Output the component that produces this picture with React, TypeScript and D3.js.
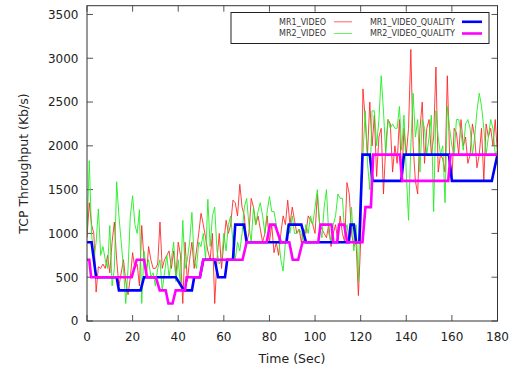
import React from "react";
import * as d3 from "d3";

const mr1Video = [
  950,1350,1100,1000,330,620,600,650,600,750,
  550,900,1130,700,400,550,700,450,300,500,
  780,600,650,400,1090,700,500,850,700,600,
  600,650,1130,600,700,750,800,600,800,500,
  900,750,200,900,450,700,900,600,800,1000,
  1230,1100,950,800,700,1000,200,700,1000,600,
  900,1150,1000,1100,1380,1350,1200,1560,1300,1200,
  900,1000,1400,1300,1100,1200,1050,900,1000,1200,
  900,1100,780,900,750,1000,1200,1100,1380,1100,
  1300,1150,1000,1050,900,1050,1000,1200,1150,1100,
  1000,1450,1100,1050,1000,950,1100,850,1000,1100,
  900,1200,1000,900,1580,1450,1000,850,900,290,
  900,2650,2300,1900,2500,2000,2350,1650,2100,2200,
  1450,2000,2300,2250,1700,2000,1800,2300,1600,2200,
  1900,2200,3100,2000,1600,1450,2200,2500,1800,2200,
  2300,1900,2100,2900,1700,1900,1850,1700,2800,1900,
  1600,2200,2150,1900,2300,2000,2100,1800,1900,2250,
  2100,1750,1900,2200,1600,2250,2100,2200,2000,2300,
  1900,
];

const mr2Video = [
  1000,1830,1000,700,900,1280,750,850,700,600,
  1090,400,600,1590,1200,900,600,200,600,1200,
  1430,1100,1000,1270,200,800,600,700,500,550,
  400,600,700,350,550,750,500,700,900,450,
  700,400,1150,600,700,900,1240,700,600,900,
  850,1000,700,1390,850,1200,1300,800,650,700,
  1000,800,1100,1200,900,700,900,800,1000,1300,
  1400,1100,900,1300,1100,1250,1350,1200,1000,1250,
  1420,1250,1250,1100,950,700,570,900,1100,1000,
  1200,1000,1000,1050,1000,900,1100,1000,1200,1100,
  1300,1500,1100,950,1300,1500,1000,900,1100,1200,
  1450,1400,1400,1000,1100,900,1300,800,1100,450,
  1600,1900,2400,1800,1500,2400,2400,2000,2300,2800,
  2400,1900,2300,2200,2250,2200,2200,2450,1950,2350,
  1700,1150,2000,2600,2100,2300,1700,2300,2200,1900,
  2100,2350,1250,2400,2100,1900,2000,1350,2450,2200,
  2000,1900,2300,2300,2150,1950,2250,2300,2200,1900,
  2100,2400,2600,2450,2200,1900,2100,2300,2200,1900,
  1950,
];

const mr1QualityTime = [0,2,4,13,14,23.5,25,39,42.5,46,47,49.5,51,56,57.5,60.5,61.5,64,65,68.8,70,87.5,88.5,94,96,114.8,115.6,117,118,119.4,120.8,124,125.2,137.8,139,158.7,160,177.5,180];
const mr1QualityValue = [900,900,500,500,350,350,500,500,350,350,500,500,700,700,500,500,700,700,1100,1100,900,900,1100,1100,900,900,1100,1100,900,900,1900,1900,1600,1600,1900,1900,1600,1600,1900];

const mr2QualityTime = [0,1,1.8,19.6,21.8,25,26.3,30.2,31.9,34.5,35.7,37.5,38.9,43,43.7,49.5,51,68.2,70,78.8,80.2,82.4,85,88.7,90.2,92.6,94.5,101.4,102.4,107.2,108,109.7,110.5,112.8,114.1,120.8,122.1,124.5,125.5,137.2,138.2,158.4,159.4,180];
const mr2QualityValue = [700,700,500,500,700,700,500,500,350,350,200,200,350,350,500,500,700,700,900,900,1100,1100,900,900,700,700,900,900,1100,1100,900,900,1100,1100,900,900,1300,1300,1900,1900,1600,1600,1900,1900];

const xTicks = [0,20,40,60,80,100,120,140,160,180];
const yTicks = [0,500,1000,1500,2000,2500,3000,3500];

const seriesNames = ["MR1_VIDEO","MR2_VIDEO","MR1_VIDEO_QUALITY","MR2_VIDEO_QUALITY"];
const seriesColors = ["#ff2020","#22ee22","#0000ff","#ff00ff"];

export default function App() {
  const W = 513, H = 367;
  const left = 87, right = 497.5, top = 5.7, bottom = 321;
  const x = d3.scaleLinear().domain([0, 180]).range([left, right]);
  const y = d3.scaleLinear().domain([0, 3600]).range([bottom, top]);
  const font = "DejaVu Sans, sans-serif";
  const tickLen = 6;

  const line = d3.line<[number, number]>().x(d => x(d[0])).y(d => y(d[1]));
  const red = line(mr1Video.map((v, i) => [i, v] as [number, number])) || "";
  const green = line(mr2Video.map((v, i) => [i, v] as [number, number])) || "";
  const blue = line(mr1QualityTime.map((t, i) => [t, mr1QualityValue[i]] as [number, number])) || "";
  const mag = line(mr2QualityTime.map((t, i) => [t, mr2QualityValue[i]] as [number, number])) || "";

  const axisColor = "#555";
  const textColor = "#222";

  return (
    <svg width={W} height={H} style={{ position: "absolute", left: 0, top: 0 }} fontFamily={font}>
      <rect x={0} y={0} width={W} height={H} fill="#fff" />
      <defs>
        <clipPath id="plot">
          <rect x={left} y={top} width={right - left} height={bottom - top} />
        </clipPath>
      </defs>
      {/* ticks */}
      {yTicks.map(t => (
        <g key={"y" + t}>
          <line x1={left} x2={left + tickLen} y1={y(t)} y2={y(t)} stroke={axisColor} strokeWidth={1} />
          <line x1={right} x2={right - tickLen} y1={y(t)} y2={y(t)} stroke={axisColor} strokeWidth={1} />
          <text x={78.5} y={y(t)} dy="0.36em" textAnchor="end" fontSize={12} fill={textColor}>{t}</text>
        </g>
      ))}
      {xTicks.map(t => (
        <g key={"x" + t}>
          <line x1={x(t)} x2={x(t)} y1={bottom} y2={bottom - tickLen} stroke={axisColor} strokeWidth={1} />
          <line x1={x(t)} x2={x(t)} y1={top} y2={top + tickLen} stroke={axisColor} strokeWidth={1} />
          <text x={x(t)} y={340.5} textAnchor="middle" fontSize={12} fill={textColor}>{t}</text>
        </g>
      ))}
      <g clipPath="url(#plot)" fill="none" strokeLinejoin="miter">
        <path d={red} stroke={seriesColors[0]} strokeWidth={1} strokeOpacity={0.85} />
        <path d={green} stroke={seriesColors[1]} strokeWidth={1} strokeOpacity={0.9} />
        <path d={blue} stroke={seriesColors[2]} strokeWidth={2.6} />
        <path d={mag} stroke={seriesColors[3]} strokeWidth={2.6} />
      </g>
      <rect x={left} y={top} width={right - left} height={bottom - top} fill="none" stroke="#333" strokeWidth={1} />
      {/* legend */}
      <rect x={231} y={12.5} width={258} height={31} fill="#fff" stroke="#222" strokeWidth={1} />
      {[0, 1].map(i => (
        <g key={"l" + i}>
          <text x={326} y={24.5 + i * 11.7} textAnchor="end" fontSize={8} fill="#333">{seriesNames[i]}</text>
          <line x1={334} x2={352} y1={21.8 + i * 11.7} y2={21.8 + i * 11.7} stroke={seriesColors[i]} strokeWidth={1} strokeOpacity={0.7} />
          <text x={455} y={24.5 + i * 11.7} textAnchor="end" fontSize={8} fill="#333">{seriesNames[i + 2]}</text>
          <line x1={462} x2={482} y1={21.8 + i * 11.7} y2={21.8 + i * 11.7} stroke={seriesColors[i + 2]} strokeWidth={2.6} />
        </g>
      ))}
      {/* axis titles */}
      <text x={292} y={363} textAnchor="middle" fontSize={12.5} fill={textColor}>Time (Sec)</text>
      <text transform="translate(27.5,163.5) rotate(-90)" textAnchor="middle" fontSize={12.5} fill={textColor}>TCP Throughput (Kb/s)</text>
    </svg>
  );
}
